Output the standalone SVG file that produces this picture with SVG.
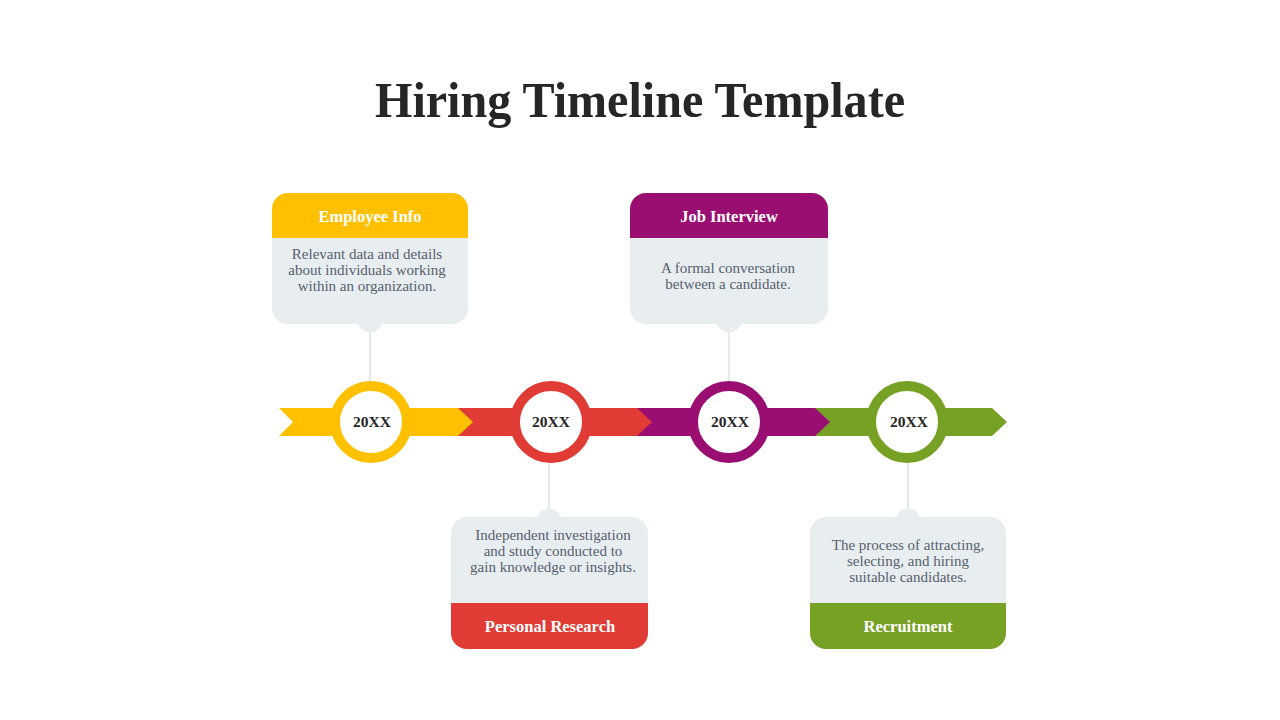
<svg xmlns="http://www.w3.org/2000/svg" width="1280" height="720" viewBox="0 0 1280 720">
<style>
.title{font-family:"Liberation Serif","DejaVu Serif",serif;font-weight:bold;font-size:50px;fill:#262626}
.head{font-family:"Liberation Serif","DejaVu Serif",serif;font-weight:bold;font-size:16.5px;fill:#ffffff}
.body{font-family:"Liberation Serif","DejaVu Serif",serif;font-size:15px;fill:#56606e}
.year{font-family:"Liberation Serif","DejaVu Serif",serif;font-weight:bold;font-size:15.5px;fill:#262626}
.card{fill:#E8EDF0}
.ring{fill:#ffffff;stroke-width:10}
.conn{stroke:#E4E9EC;stroke-width:2;fill:none}
</style>
<rect width="1280" height="720" fill="#ffffff"/>
<text class="title" x="640" y="117" text-anchor="middle" textLength="530" lengthAdjust="spacingAndGlyphs">Hiring Timeline Template</text>

<g id="connectors">
<line class="conn" x1="370" y1="330" x2="370" y2="382"/>
<line class="conn" x1="729" y1="330" x2="729" y2="382"/>
<line class="conn" x1="549" y1="462" x2="549" y2="512"/>
<line class="conn" x1="908" y1="462" x2="908" y2="512"/>
</g>

<g id="timeline">
<polygon points="815,408 992,408 1007,422 992,436 815,436" fill="#77A125"/>
<polygon points="637,408 815,408 830,422 815,436 637,436" fill="#9A0E72"/>
<polygon points="458,408 637,408 652,422 637,436 458,436" fill="#E03B34"/>
<polygon points="279,408 458,408 473,422 458,436 279,436 293,422" fill="#FFC000"/>
</g>

<g id="milestone-1">
<circle class="ring" cx="371" cy="422" r="36" stroke="#FFC000"/>
<text class="year" x="372" y="426.5" text-anchor="middle">20XX</text>
</g>
<g id="milestone-2">
<circle class="ring" cx="551" cy="422" r="36" stroke="#E03B34"/>
<text class="year" x="551" y="426.5" text-anchor="middle">20XX</text>
</g>
<g id="milestone-3">
<circle class="ring" cx="729" cy="422" r="36" stroke="#9A0E72"/>
<text class="year" x="730" y="426.5" text-anchor="middle">20XX</text>
</g>
<g id="milestone-4">
<circle class="ring" cx="907" cy="422" r="36" stroke="#77A125"/>
<text class="year" x="909" y="426.5" text-anchor="middle">20XX</text>
</g>

<g id="card-employee-info">
<circle class="card" cx="370" cy="320" r="12.5"/>
<rect class="card" x="272" y="193" width="196" height="131" rx="16"/>
<path d="M272,238 V209 A16,16 0 0 1 288,193 H452 A16,16 0 0 1 468,209 V238 Z" fill="#FFC000"/>
<text class="head" x="370" y="221.5" text-anchor="middle">Employee Info</text>
<text class="body" x="367" y="258.5" text-anchor="middle">Relevant data and details</text>
<text class="body" x="367" y="274.5" text-anchor="middle">about individuals working</text>
<text class="body" x="367" y="290.5" text-anchor="middle">within an organization.</text>
</g>

<g id="card-job-interview">
<circle class="card" cx="729" cy="320" r="12.5"/>
<rect class="card" x="630" y="193" width="198" height="131" rx="16"/>
<path d="M630,238 V209 A16,16 0 0 1 646,193 H812 A16,16 0 0 1 828,209 V238 Z" fill="#9A0E72"/>
<text class="head" x="729" y="221.5" text-anchor="middle">Job Interview</text>
<text class="body" x="728" y="272.5" text-anchor="middle">A formal conversation</text>
<text class="body" x="728" y="288.5" text-anchor="middle">between  a candidate.</text>
</g>

<g id="card-personal-research">
<circle class="card" cx="549" cy="521" r="12.5"/>
<rect class="card" x="451" y="517" width="197" height="132" rx="16"/>
<path d="M451,603 H648 V633 A16,16 0 0 1 632,649 H467 A16,16 0 0 1 451,633 Z" fill="#E03B34"/>
<text class="head" x="550" y="631.5" text-anchor="middle">Personal Research</text>
<text class="body" x="553" y="540" text-anchor="middle">Independent investigation</text>
<text class="body" x="553" y="556" text-anchor="middle">and study conducted to</text>
<text class="body" x="553" y="572" text-anchor="middle">gain knowledge or insights.</text>
</g>

<g id="card-recruitment">
<circle class="card" cx="908" cy="521" r="12.5"/>
<rect class="card" x="810" y="517" width="196" height="132" rx="16"/>
<path d="M810,603 H1006 V633 A16,16 0 0 1 990,649 H826 A16,16 0 0 1 810,633 Z" fill="#77A125"/>
<text class="head" x="908" y="631.5" text-anchor="middle">Recruitment</text>
<text class="body" x="908" y="550" text-anchor="middle">The process of attracting,</text>
<text class="body" x="908" y="566" text-anchor="middle">selecting, and hiring</text>
<text class="body" x="908" y="582" text-anchor="middle">suitable candidates.</text>
</g>
</svg>
